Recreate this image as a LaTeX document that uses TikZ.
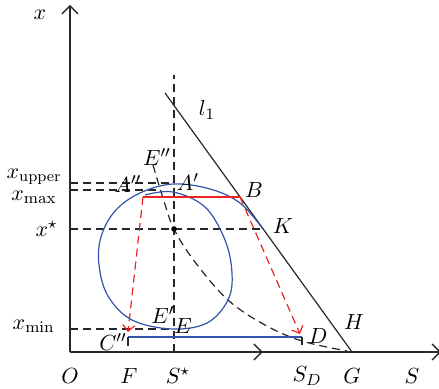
\documentclass[tikz,border=0pt]{standalone}
\usepackage{amsmath}
\usetikzlibrary{arrows.meta, decorations.markings}
\definecolor{trajblue}{RGB}{50,85,170}
\definecolor{ctrlred}{RGB}{235,35,35}
\definecolor{axisgray}{RGB}{40,40,40}

\begin{document}
\begin{tikzpicture}[
    x=0.5pt, y=-0.5pt,
    font=\fontsize{11}{13}\selectfont,
    axis/.style={draw=axisgray, line width=0.7pt},
    guide/.style={draw=black!85, line width=0.6pt, dash pattern=on 4pt off 2.5pt},
    traj/.style={draw=trajblue, line width=0.6pt},
    ctrl/.style={draw=ctrlred, line width=0.6pt},
    ctrlmove/.style={draw=ctrlred, line width=0.6pt, dash pattern=on 4pt off 2.5pt, -{Straight Barb[length=3pt,width=6pt]}},
    lbl/.style={inner sep=1pt}
]
\useasboundingbox (0,0) rectangle (439,389);

% points of the diagram
\coordinate (O) at (70,352);
\coordinate (xend) at (70,5);
\coordinate (Send) at (441,352);
\coordinate (Sstar) at (174,352);
\coordinate (Stop) at (174,75);
\coordinate (Pstar) at (174,229);
\coordinate (Ap) at (174,183);
\coordinate (App) at (158,190);
\coordinate (Bp) at (240,197);
\coordinate (Cl) at (143,197);
\coordinate (Kp) at (263,229);
\coordinate (Ep) at (174,329);
\coordinate (Cpp) at (128,337);
\coordinate (Dp) at (302,337);
\coordinate (Gp) at (352,352);
\coordinate (Ltop) at (165,93);
\coordinate (yup) at (70,183);
\coordinate (ymax) at (70,190);
\coordinate (ystar) at (70,229);
\coordinate (ymin) at (70,329);

% axes
\draw[axis, -{Straight Barb[length=4pt,width=8pt]}] (O) -- (xend);
\draw[axis, -{Straight Barb[length=4pt,width=8pt]},
    postaction={decorate, decoration={markings,
    mark=at position 0.52 with {\arrow{Straight Barb[length=4pt,width=8pt]}}}}] (O) -- (Send);

% guide lines
\draw[guide] (Sstar) -- (Stop);
\draw[guide] (yup) -- (Ap);
\draw[guide] (ymax) -- (App);
\draw[guide] (ystar) -- (Kp);
\draw[guide] (ymin) -- (Ep);
\draw[guide] plot[smooth, tension=0.6] coordinates {(153,165) (163,198) (Pstar) (195,262) (228,300) (265,325) (302,341) (347,351)};

% boundary l1
\draw[axis, line width=0.6pt] (Ltop) -- (Gp);

% trajectory
\draw[traj] plot[smooth, tension=0.6] coordinates {(Kp) (240,203) (210,189) (173,184) (140,193) (115,211) (101,237) (99,265) (108,296) (132,320) (172,329) (207,323) (228,300) (232,273) (225,240) (205,207) (173,192) (145,195)};
\draw[traj] (Cpp) -- (Dp);
\draw[axis, line width=0.6pt] (Cpp) -- ++(0,9);
\draw[axis, line width=0.6pt] (Dp) -- ++(0,8);

% control moves
\draw[ctrl] (Cl) -- (Bp);
\draw[ctrlmove] (Bp) -- (300,334);
\draw[ctrlmove] (Cl) -- (128,332);
\fill (Pstar) circle (1.4pt);

% labels
\node[lbl] (xlab) at (40,15) {$x$};
\node[lbl, anchor=east] (xuplab) at (64,177) {$x_{\text{upper}}$};
\node[lbl, anchor=east] (xmaxlab) at (59,197) {$x_{\max}$};
\node[lbl, anchor=east] (xstarlab) at (60,229) {$x^{\star}$};
\node[lbl, anchor=east] (xminlab) at (57,326) {$x_{\min}$};
\node[lbl] (Olab) at (70,376) {$O$};
\node[lbl] (Flab) at (129,376) {$F$};
\node[lbl] (Sstarlab) at (178,376) {$S^{\star}$};
\node[lbl] (SDlab) at (307,376) {$S_D$};
\node[lbl] (Glab) at (352,376) {$G$};
\node[lbl] (Slab) at (412,376) {$S$};
\node[lbl] (l1lab) at (207,110) {$l_1$};
\node[lbl] (Hlab) at (354,322) {$H$};
\node[lbl] (Blab) at (254,190) {$B$};
\node[lbl] (Klab) at (283,226) {$K$};
\node[lbl] (Aplab) at (188,182) {$A'$};
\node[lbl] (Applab) at (128,184) {$A''$};
\node[lbl] (Epplab) at (157,157) {$E''$};
\node[lbl] (Eplab) at (163,315) {$E'$};
\node[lbl] (Elab) at (183,326) {$E$};
\node[lbl] (Cpplab) at (113,342) {$C''$};
\node[lbl] (Dlab) at (318,336) {$D$};
\end{tikzpicture}
\end{document}
